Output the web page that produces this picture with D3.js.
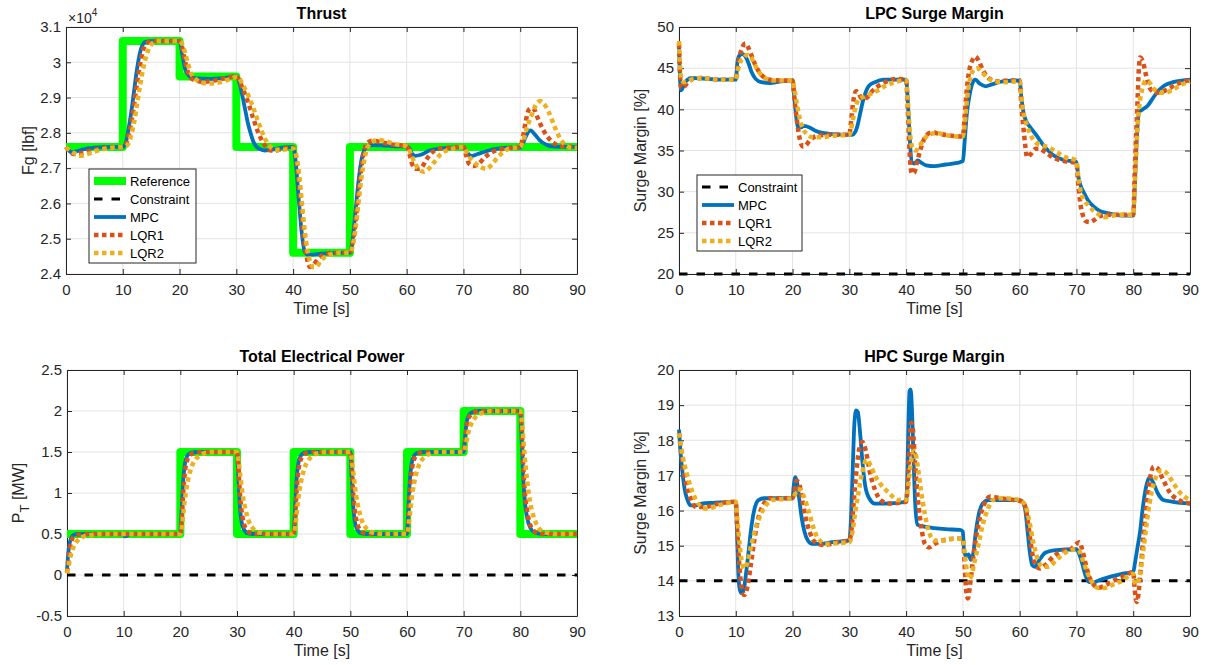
<!DOCTYPE html>
<html>
<head>
<meta charset="utf-8">
<script src="https://cdn.jsdelivr.net/npm/d3@7"></script>
<style>
  body { margin: 0; background: #fff; }
  text { font-family: "Liberation Sans", Arial, Helvetica, sans-serif; }
</style>
</head>
<body>
<svg id="chart" width="1206" height="665"></svg>
<script>
// ---- data ----
var timeTicks = [0, 10, 20, 30, 40, 50, 60, 70, 80, 90];

// Thrust [lbf]
var thrustTicks = [24000, 25000, 26000, 27000, 28000, 29000, 30000, 31000];
var thrustRef = [[0,27600],[10,30600],[20,29600],[30,27600],[40,24600],[50,27600],[90,27600]];
var thrustMPC = [[0,27600],[0.5,27500],[1,27450],[2,27480],[3,27530],[5,27580],[8,27600],[10,27600],[10.5,27700],[11,28100],[11.5,28600],[12,29200],[12.5,29800],[13,30250],[13.5,30500],[14,30580],[15,30600],[20,30600],[20.5,30200],[21,29800],[21.5,29650],[22,29580],[23,29540],[25,29530],[28,29560],[30,29600],[30.5,29450],[31,29100],[31.5,28700],[32,28300],[32.5,28000],[33,27750],[34,27550],[35,27500],[36,27520],[38,27580],[40,27600],[40.5,27100],[41,26100],[41.5,25200],[42,24650],[42.5,24550],[43,24550],[45,24580],[48,24600],[50,24600],[50.5,25000],[51,25800],[51.5,26600],[52,27200],[52.5,27500],[53,27620],[54,27650],[56,27640],[58,27620],[60,27620],[60.5,27550],[61,27400],[61.5,27350],[62.5,27380],[64,27500],[66,27560],[68,27580],[70,27600],[70.5,27480],[71,27380],[71.5,27350],[72.5,27400],[74,27480],[76,27550],[78,27580],[80,27580],[80.5,27700],[81,27900],[81.8,28070],[82.6,27950],[83.5,27780],[84.5,27670],[86,27610],[90,27600]];
var thrustLQR1 = [[0,27600],[0.5,27500],[1,27420],[1.5,27400],[2.5,27420],[4,27480],[6,27550],[8,27590],[10,27600],[10.5,27650],[11,27900],[11.5,28300],[12,28800],[12.5,29400],[13,29900],[13.5,30300],[14,30500],[15,30600],[20,30600],[20.5,30400],[21,30000],[21.5,29700],[22,29550],[23,29480],[24,29450],[26,29480],[28,29550],[30,29600],[30.5,29500],[31,29300],[32,28900],[33,28400],[34,27950],[35,27650],[36,27500],[37,27500],[38,27550],[40,27580],[40.5,27300],[41,26600],[41.5,25700],[42,24900],[42.5,24400],[43,24200],[43.5,24250],[44.5,24450],[46,24580],[48,24600],[50,24600],[50.5,24900],[51,25500],[51.5,26300],[52,27000],[52.5,27500],[53,27700],[54,27780],[55,27750],[57,27680],[60,27620],[60.5,27400],[61,27100],[61.7,26980],[62.5,27000],[63.5,27250],[64.5,27450],[66,27560],[68,27590],[70,27600],[70.5,27350],[71,27120],[71.8,27060],[72.7,27120],[73.7,27300],[75,27450],[77,27550],[80,27600],[80.5,27900],[81,28350],[81.5,28650],[82,28700],[82.5,28650],[83,28450],[84,28100],[85,27850],[86,27700],[87,27620],[90,27600]];
var thrustLQR2 = [[0,27600],[0.5,27520],[1.5,27420],[2.5,27350],[3.5,27380],[5,27470],[7,27550],[9,27590],[10,27600],[10.5,27620],[11,27700],[11.5,27950],[12,28300],[12.5,28800],[13,29300],[13.5,29750],[14,30100],[14.5,30350],[15,30500],[16,30600],[20,30600],[20.5,30500],[21,30250],[21.5,29950],[22,29700],[23,29500],[24,29420],[25,29400],[27,29430],[29,29530],[30,29580],[30.5,29550],[31,29400],[32,29100],[33,28700],[34,28250],[35,27850],[36,27600],[37,27520],[38,27520],[40,27560],[40.5,27400],[41,26900],[41.5,26100],[42,25300],[42.5,24700],[43,24350],[43.5,24200],[44,24200],[45,24400],[46.5,24550],[48,24600],[50,24600],[50.5,24800],[51,25300],[51.5,26000],[52,26700],[52.5,27200],[53,27550],[54,27750],[55,27800],[56.5,27750],[58,27680],[60,27620],[60.5,27500],[61,27300],[62,27000],[63,26900],[64,27000],[65,27200],[66,27400],[68,27550],[70,27600],[70.5,27480],[71,27330],[72,27150],[73,27030],[74,26980],[75,27100],[76,27300],[77,27450],[78,27550],[80,27600],[80.5,27750],[81,28050],[82,28500],[83,28850],[83.5,28900],[84,28850],[85,28600],[86,28200],[87,27850],[88,27650],[89,27580],[90,27580]];

// LPC surge margin [%]
var lpcTicks = [20, 25, 30, 35, 40, 45, 50];
var lpcConstraint = 20;
var lpcMPC = [[0,47.5],[0.2,43.5],[0.4,42.3],[0.7,42.7],[1,43.2],[1.5,43.6],[2,43.8],[3,43.8],[5,43.7],[8,43.6],[10,43.6],[10.3,45.8],[10.6,46.5],[11.2,46.7],[11.8,46.3],[12.3,45.5],[12.8,44.5],[13.5,43.7],[14.5,43.3],[16,43.2],[18,43.4],[20,43.5],[20.3,41.5],[20.7,38.8],[21,37.8],[21.5,37.8],[22,38],[23,37.8],[24,37.4],[25.5,37.1],[27,37],[30,36.9],[30.5,36.9],[31,37.2],[31.5,38.2],[32,39.8],[32.5,41.3],[33,42.3],[33.5,42.9],[34.5,43.3],[36,43.6],[40,43.6],[40.3,41],[40.6,37],[41,33.6],[41.5,33.4],[42,33.8],[42.5,33.6],[43.5,33.2],[45,33.1],[47,33.3],[49,33.5],[50,33.7],[50.3,36],[50.7,39.5],[51.2,41.8],[51.7,43.2],[52.2,43.6],[53,43.1],[54,42.8],[55,43],[57,43.4],[60,43.5],[60.3,41.5],[60.7,39.5],[61.2,38.5],[62,37.7],[63,36.8],[64,35.8],[65,35],[66,34.4],[67.5,33.9],[70,33.6],[70.3,32],[70.7,30.8],[71.3,29.9],[72,29],[73,28.2],[74,27.7],[75.5,27.4],[78,27.1],[80,27.1],[80.3,31],[80.6,36],[81,39.6],[81.7,40],[82.5,40.4],[83.5,41.4],[84.5,42.3],[85.5,42.9],[87,43.3],[88.5,43.5],[90,43.6]];
var lpcLQR1 = [[0,48],[0.2,44],[0.4,42.6],[0.8,42.7],[1.5,43.2],[2.5,43.7],[4,43.8],[7,43.6],[10,43.6],[10.3,45],[10.7,46.5],[11.2,47.6],[11.7,48],[12.2,47.5],[12.8,46.5],[13.5,45.3],[14.5,44.2],[16,43.6],[18,43.5],[20,43.5],[20.3,41.5],[20.8,38.5],[21.3,36.3],[21.8,35.5],[22.3,35.6],[23,36.2],[24,36.7],[26,36.9],[28,36.9],[30,36.9],[30.3,38.5],[30.7,41],[31.2,42.2],[31.6,42],[32.2,41.3],[33,41.4],[34,42.2],[35.5,43],[37,43.5],[38.5,43.7],[40,43.6],[40.3,40],[40.6,35],[41,32.2],[41.4,32.3],[42,33.8],[42.7,35.5],[43.5,36.8],[44.5,37.2],[46,37],[48,36.8],[50,36.7],[50.3,39],[50.7,42.5],[51.2,45],[51.7,46],[52.2,46.4],[52.7,46],[53.5,44.8],[54.5,43.8],[56,43.4],[58,43.5],[60,43.5],[60.3,40.5],[60.7,37.5],[61,35.5],[61.3,34.2],[62,34.6],[62.8,35.2],[63.5,35.2],[64.5,34.8],[66,34.1],[68,33.7],[70,33.5],[70.3,31],[70.7,28.5],[71.2,27],[71.7,26.4],[72.3,26.3],[73,26.5],[74,27],[75.5,27.2],[78,27.2],[80,27.2],[80.3,33],[80.7,40],[81,45],[81.2,46.3],[81.7,45.8],[82.3,44],[83,42.5],[84,42],[85,42.1],[86,42.4],[87.5,43],[89,43.4],[90,43.5]];
var lpcLQR2 = [[0,48.3],[0.2,45],[0.4,43.8],[0.8,43.3],[1.5,43.4],[2.5,43.7],[4,43.8],[7,43.6],[10,43.6],[10.3,44.5],[10.7,45.6],[11.3,46.2],[12,46.6],[12.6,46.4],[13.3,45.5],[14,44.6],[15,43.9],[16.5,43.5],[20,43.5],[20.3,42.5],[20.8,40.5],[21.3,38.8],[21.8,37.7],[22.5,37],[23.5,36.6],[25,36.6],[27,36.8],[30,36.9],[30.3,37.5],[30.7,39],[31.2,40.5],[31.8,41.3],[32.5,41.5],[33.5,41.8],[35,42.3],[36.5,42.9],[38,43.3],[40,43.5],[40.3,41],[40.7,37],[41.2,35.2],[41.7,35],[42.3,35.5],[43.2,36.4],[44.2,37],[45.5,37.1],[47.5,36.8],[50,36.7],[50.3,38],[50.7,41],[51.2,43.5],[51.8,44.7],[52.5,45],[53.3,44.6],[54.2,43.9],[55.5,43.4],[57,43.3],[60,43.4],[60.3,41.5],[60.7,39.5],[61.3,38],[62,36.8],[62.8,36],[63.7,35.7],[65,35.4],[66.5,34.8],[68,34.2],[70,33.8],[70.3,32],[70.7,30.2],[71.3,29],[72,28.4],[73,27.7],[74,27.2],[75,26.9],[76.5,27.1],[78,27.2],[80,27.2],[80.3,31],[80.7,37],[81.1,40.5],[81.6,42.5],[82.2,43.5],[82.8,43.3],[83.5,42.6],[84.5,42.1],[85.5,42],[87,42.4],[88.5,43],[90,43.4]];

// Total electrical power [MW]
var powerTicks = [-0.5, 0, 0.5, 1, 1.5, 2, 2.5];
var powerConstraint = 0;
var powerRef = [[0,0.5],[20,1.5],[30,0.5],[40,1.5],[50,0.5],[60,1.5],[70,2],[80,0.5],[90,0.5]];
var powerMPC = [[0,0.05],[0.2,0.25],[0.5,0.4],[0.8,0.46],[1.2,0.49],[2,0.5],[10,0.5],[10.2,0.47],[10.6,0.48],[11.2,0.5],[20,0.5],[20.2,0.75],[20.5,1.15],[20.8,1.35],[21.2,1.45],[21.8,1.49],[23,1.5],[30,1.5],[30.2,1.25],[30.5,0.85],[30.8,0.65],[31.2,0.56],[31.8,0.51],[33,0.5],[40,0.5],[40.2,0.75],[40.5,1.15],[40.8,1.35],[41.2,1.45],[41.8,1.49],[43,1.5],[50,1.5],[50.2,1.25],[50.5,0.85],[50.8,0.65],[51.2,0.56],[51.8,0.51],[53,0.5],[60,0.5],[60.2,0.75],[60.5,1.15],[60.8,1.35],[61.2,1.45],[61.8,1.49],[63,1.5],[70,1.5],[70.2,1.65],[70.5,1.85],[70.8,1.93],[71.3,1.98],[72.5,2],[80,2],[80.2,1.7],[80.5,1.2],[80.8,0.9],[81.2,0.7],[81.8,0.57],[82.5,0.52],[84,0.5],[90,0.5]];
var powerLQR1 = [[0,0.03],[0.2,0.15],[0.5,0.32],[0.8,0.42],[1.2,0.47],[2,0.49],[3,0.5],[20,0.5],[20.2,0.65],[20.5,1],[20.8,1.25],[21.2,1.4],[21.8,1.47],[22.5,1.49],[24,1.5],[30,1.5],[30.2,1.35],[30.5,1],[30.8,0.78],[31.2,0.63],[31.8,0.54],[32.5,0.51],[34,0.5],[40,0.5],[40.2,0.65],[40.5,1],[40.8,1.25],[41.2,1.4],[41.8,1.47],[42.5,1.49],[44,1.5],[50,1.5],[50.2,1.35],[50.5,1],[50.8,0.78],[51.2,0.63],[51.8,0.54],[52.5,0.51],[54,0.5],[60,0.5],[60.2,0.65],[60.5,1],[60.8,1.25],[61.2,1.4],[61.8,1.47],[62.5,1.49],[64,1.5],[70,1.5],[70.2,1.6],[70.5,1.8],[70.8,1.9],[71.3,1.96],[72,1.99],[73,2],[80,2],[80.2,1.8],[80.5,1.35],[80.8,1],[81.2,0.78],[81.8,0.6],[82.5,0.53],[83.5,0.5],[90,0.5]];
var powerLQR2 = [[0,0.02],[0.3,0.12],[0.7,0.25],[1.2,0.35],[2,0.43],[3,0.47],[4.5,0.49],[6,0.5],[20,0.5],[20.3,0.6],[20.6,0.8],[21,1.02],[21.5,1.2],[22,1.32],[22.7,1.41],[23.5,1.46],[24.5,1.49],[26,1.5],[30,1.5],[30.3,1.38],[30.6,1.2],[31,0.98],[31.5,0.8],[32,0.67],[32.7,0.58],[33.5,0.53],[34.5,0.51],[36,0.5],[40,0.5],[40.3,0.6],[40.6,0.8],[41,1.02],[41.5,1.2],[42,1.32],[42.7,1.41],[43.5,1.46],[44.5,1.49],[46,1.5],[50,1.5],[50.3,1.38],[50.6,1.2],[51,0.98],[51.5,0.8],[52,0.67],[52.7,0.58],[53.5,0.53],[54.5,0.51],[56,0.5],[60,0.5],[60.3,0.6],[60.6,0.8],[61,1.02],[61.5,1.2],[62,1.32],[62.7,1.41],[63.5,1.46],[64.5,1.49],[66,1.5],[70,1.5],[70.3,1.56],[70.7,1.7],[71.2,1.82],[71.8,1.9],[72.5,1.95],[73.5,1.98],[75,2],[80,2],[80.3,1.85],[80.7,1.5],[81.2,1.15],[81.7,0.9],[82.3,0.72],[83,0.6],[84,0.53],[85,0.51],[86.5,0.5],[90,0.5]];

// HPC surge margin [%]
var hpcTicks = [13, 14, 15, 16, 17, 18, 19, 20];
var hpcConstraint = 14;
var hpcMPC = [[0,18.3],[0.3,17.6],[0.6,17.1],[1,16.6],[1.5,16.3],[2,16.15],[3,16.15],[4,16.2],[6,16.22],[10,16.25],[10.2,15.5],[10.4,14.4],[10.7,13.75],[11,13.65],[11.4,13.75],[11.8,14.2],[12.3,14.9],[12.8,15.6],[13.3,16.05],[14,16.3],[15,16.35],[20,16.35],[20.2,16.7],[20.5,16.95],[20.8,16.8],[21.2,16.3],[21.6,15.8],[22.1,15.4],[22.7,15.15],[23.5,15.05],[25,15.05],[27,15.1],[30,15.15],[30.3,15.8],[30.6,17.2],[30.9,18.5],[31.2,18.85],[31.5,18.8],[31.9,18.2],[32.3,17.4],[32.8,16.7],[33.5,16.35],[34.5,16.2],[36,16.2],[40,16.25],[40.2,16.9],[40.4,18.4],[40.6,19.4],[40.8,19.45],[41,19],[41.3,17.5],[41.6,16.2],[42,15.6],[43,15.55],[45,15.5],[47,15.47],[49.5,15.45],[50,15.4],[50.2,14.85],[50.6,14.7],[51,14.75],[51.4,14.6],[51.8,14.75],[52.2,15.3],[52.8,15.9],[53.5,16.2],[54.5,16.3],[57,16.3],[60,16.3],[60.5,16.25],[61,16],[61.4,15.4],[61.8,14.8],[62.2,14.45],[62.7,14.4],[63.5,14.6],[64.5,14.8],[66,14.87],[70,14.9],[70.4,14.8],[71,14.5],[71.6,14.15],[72.2,13.97],[73,13.95],[74,14.02],[76,14.12],[78,14.2],[80,14.25],[80.3,14.5],[80.7,14.9],[81.2,15.4],[81.7,16.1],[82.3,16.7],[82.9,16.95],[83.5,16.8],[84.3,16.5],[85.3,16.3],[87,16.25],[90,16.2]];
var hpcLQR1 = [[0,18.2],[0.3,17.8],[0.7,17.3],[1.2,16.8],[2,16.35],[3,16.1],[4.5,16.1],[7,16.2],[10,16.25],[10.3,15.3],[10.7,14.3],[11.1,13.75],[11.5,13.6],[12,13.8],[12.6,14.4],[13.3,15.2],[14,15.8],[14.8,16.15],[16,16.35],[20,16.35],[20.3,16.5],[20.7,16.85],[21.1,16.8],[21.6,16.4],[22.3,15.8],[23,15.4],[24,15.1],[25.5,15.02],[28,15.1],[30,15.15],[30.4,15.5],[30.8,16.3],[31.3,17.2],[31.8,17.8],[32.3,17.95],[32.9,17.7],[33.6,17.1],[34.5,16.6],[35.5,16.3],[37,16.2],[40,16.25],[40.3,16.8],[40.6,17.8],[40.9,18.5],[41.2,18.3],[41.6,17.3],[42.1,16.3],[42.7,15.5],[43.3,15.05],[44,14.95],[45,15.05],[46.5,15.15],[48.5,15.2],[50,15.2],[50.3,14.5],[50.6,13.7],[50.9,13.5],[51.2,13.8],[51.7,14.5],[52.3,15.2],[53,15.8],[53.8,16.2],[54.8,16.4],[56.5,16.35],[59,16.3],[60.5,16.25],[61,16.1],[61.6,15.5],[62.2,14.8],[62.8,14.45],[63.5,14.35],[64.5,14.45],[66,14.7],[67.5,14.85],[69,14.9],[70,15.05],[70.5,15.1],[71,14.9],[71.6,14.5],[72.3,14.1],[73,13.9],[73.8,13.8],[74.8,13.85],[76.5,14],[78.5,14.15],[80,14.25],[80.3,13.7],[80.6,13.4],[80.9,13.6],[81.3,14.3],[81.8,15.3],[82.4,16.3],[83,16.95],[83.6,17.25],[84.3,17.2],[85.2,16.9],[86.5,16.5],[88,16.3],[90,16.2]];
var hpcLQR2 = [[0,18.2],[0.3,17.9],[0.7,17.5],[1.3,17.1],[2,16.7],[3,16.3],[4,16.1],[5,16.05],[7,16.15],[10,16.25],[10.3,15.7],[10.7,15],[11.1,14.5],[11.5,14.35],[12,14.5],[12.7,15],[13.5,15.5],[14.3,15.85],[15.3,16.15],[16.5,16.3],[20,16.35],[20.3,16.4],[20.8,16.6],[21.3,16.6],[22,16.4],[22.8,16],[23.6,15.55],[24.5,15.2],[26,15.05],[28,15.08],[30,15.1],[30.5,15.35],[31,15.9],[31.6,16.5],[32.3,17.1],[33,17.45],[33.7,17.3],[34.5,17],[35.5,16.75],[37,16.5],[38.5,16.3],[40,16.3],[40.3,16.6],[40.7,17.2],[41.1,17.6],[41.5,17.7],[42,17.3],[42.6,16.6],[43.3,15.9],[44,15.4],[45,15.15],[46.5,15.15],[48.5,15.2],[50,15.2],[50.3,14.8],[50.7,14.3],[51.1,14.05],[51.5,14.15],[52,14.5],[52.7,15],[53.5,15.6],[54.3,16],[55.3,16.3],[57,16.35],[60,16.3],[60.5,16.25],[61,16.15],[61.7,15.7],[62.4,15.1],[63.2,14.6],[64,14.4],[65,14.4],[66.5,14.6],[68,14.8],[70,14.9],[70.5,14.85],[71.2,14.55],[72,14.2],[72.8,13.95],[73.8,13.8],[75,13.8],[76.5,13.9],[78,14],[80,14.2],[80.3,13.95],[80.7,13.9],[81.2,14.2],[81.8,14.9],[82.5,15.8],[83.2,16.5],[84,16.95],[85,17.15],[86,17.05],[87,16.8],[88.3,16.5],[90,16.3]];

// ---- drawing ----
var svg = d3.select("#chart");
var axisColor = "#262626";

// series styles
var styles = {
  Reference:  {stroke: "#00ff00", width: 8, dash: null},
  Constraint: {stroke: "#000000", width: 3, dash: "8.5,9"},
  MPC:        {stroke: "#0072bd", width: 3.8, dash: null},
  LQR1:       {stroke: "#d95319", width: 4.5, dash: "4.5,3.5"},
  LQR2:       {stroke: "#edb120", width: 4.5, dash: "4.5,3.5"}
};

var panels = [
  {title: "Thrust", left: 66, right: 577, top: 27, bottom: 274, domain: [24000, 31000], ticks: thrustTicks,
   fmt: function(d) { return String(+(d / 1e4).toFixed(2)); }, exponent: true,
   ylabel: "Fg [lbf]", ylabelX: 34,
   ref: thrustRef, constraint: null, mpc: thrustMPC, lqr1: thrustLQR1, lqr2: thrustLQR2,
   legend: {x: 89, y: 169, w: 107, items: ["Reference", "Constraint", "MPC", "LQR1", "LQR2"]}},
  {title: "LPC Surge Margin", left: 679, right: 1190, top: 27, bottom: 274, domain: [20, 50], ticks: lpcTicks,
   fmt: function(d) { return String(d); },
   ylabel: "Surge Margin [%]", ylabelX: 646,
   ref: null, constraint: lpcConstraint, mpc: lpcMPC, lqr1: lpcLQR1, lqr2: lpcLQR2,
   legend: {x: 697, y: 175, w: 105, items: ["Constraint", "MPC", "LQR1", "LQR2"]}},
  {title: "Total Electrical Power", left: 67, right: 577, top: 370, bottom: 616, domain: [-0.5, 2.5], ticks: powerTicks,
   fmt: function(d) { return String(d); },
   ylabel: "P_T [MW]", ylabelX: 24,
   ref: powerRef, constraint: powerConstraint, mpc: powerMPC, lqr1: powerLQR1, lqr2: powerLQR2,
   legend: null},
  {title: "HPC Surge Margin", left: 679, right: 1190, top: 370, bottom: 616, domain: [13, 20], ticks: hpcTicks,
   fmt: function(d) { return String(d); },
   ylabel: "Surge Margin [%]", ylabelX: 646,
   ref: null, constraint: hpcConstraint, mpc: hpcMPC, lqr1: hpcLQR1, lqr2: hpcLQR2,
   legend: null}
];

function styled(sel, s) {
  sel.attr("fill", "none")
    .attr("stroke", s.stroke)
    .attr("stroke-width", s.width)
    .attr("stroke-dasharray", s.dash);
  return sel;
}

panels.forEach(function(p) {
  var g = svg.append("g");
  var x = d3.scaleLinear().domain([0, 90]).range([p.left, p.right]);
  var y = d3.scaleLinear().domain(p.domain).range([p.bottom, p.top]);

  // grid
  g.append("g").selectAll("line").data(timeTicks).enter().append("line")
    .attr("x1", function(d) { return x(d); }).attr("x2", function(d) { return x(d); })
    .attr("y1", p.top).attr("y2", p.bottom)
    .attr("stroke", "#e3e3e3").attr("stroke-width", 1);
  g.append("g").selectAll("line").data(p.ticks).enter().append("line")
    .attr("y1", function(d) { return y(d); }).attr("y2", function(d) { return y(d); })
    .attr("x1", p.left).attr("x2", p.right)
    .attr("stroke", "#e3e3e3").attr("stroke-width", 1);

  // axes (ticks pointing inward, box on)
  var ax = [
    g.append("g").attr("transform", "translate(0," + p.bottom + ")")
      .call(d3.axisBottom(x).tickValues(timeTicks).tickSizeInner(-5).tickSizeOuter(0).tickPadding(10)),
    g.append("g").attr("transform", "translate(0," + p.top + ")")
      .call(d3.axisTop(x).tickValues(timeTicks).tickSizeInner(-5).tickSizeOuter(0).tickFormat("")),
    g.append("g").attr("transform", "translate(" + p.left + ",0)")
      .call(d3.axisLeft(y).tickValues(p.ticks).tickSizeInner(-5).tickSizeOuter(0).tickPadding(5).tickFormat(p.fmt)),
    g.append("g").attr("transform", "translate(" + p.right + ",0)")
      .call(d3.axisRight(y).tickValues(p.ticks).tickSizeInner(-5).tickSizeOuter(0).tickFormat(""))
  ];
  ax.forEach(function(a) {
    a.select(".domain").attr("stroke", axisColor).attr("stroke-width", 1);
    a.selectAll(".tick line").attr("stroke", axisColor);
    a.selectAll(".tick text").attr("fill", axisColor)
      .style("font-size", "15px").style("font-family", "'Liberation Sans', Arial, sans-serif");
  });

  // lines
  var line = d3.line().x(function(d) { return x(d[0]); }).y(function(d) { return y(d[1]); });
  var smooth = d3.line().curve(d3.curveMonotoneX)
    .x(function(d) { return x(d[0]); }).y(function(d) { return y(d[1]); });

  if (p.ref) {
    styled(g.append("path"), styles.Reference)
      .attr("stroke-linejoin", "round")
      .attr("d", d3.line().curve(d3.curveStepAfter)
        .x(function(d) { return x(d[0]); }).y(function(d) { return y(d[1]); })(p.ref));
  }
  if (p.constraint !== null) {
    styled(g.append("path"), styles.Constraint)
      .attr("d", line([[0, p.constraint], [90, p.constraint]]));
  }
  styled(g.append("path"), styles.MPC).attr("stroke-linejoin", "round").attr("d", smooth(p.mpc));
  styled(g.append("path"), styles.LQR1).attr("d", smooth(p.lqr1));
  styled(g.append("path"), styles.LQR2).attr("d", smooth(p.lqr2));

  // title
  g.append("text")
    .attr("x", (p.left + p.right) / 2).attr("y", p.top - 8)
    .attr("text-anchor", "middle").attr("font-weight", "bold")
    .attr("font-size", 16).attr("fill", "#000")
    .text(p.title);

  // x label
  g.append("text")
    .attr("x", (p.left + p.right) / 2).attr("y", p.bottom + 40)
    .attr("text-anchor", "middle").attr("font-size", 16).attr("fill", axisColor)
    .text("Time [s]");

  // y label
  var yl = g.append("text")
    .attr("transform", "translate(" + p.ylabelX + "," + ((p.top + p.bottom) / 2) + ") rotate(-90)")
    .attr("text-anchor", "middle").attr("font-size", 16).attr("fill", axisColor);
  if (p.ylabel === "P_T [MW]") {
    yl.append("tspan").text("P");
    yl.append("tspan").attr("dy", 5).attr("font-size", 13).text("T");
    yl.append("tspan").attr("dy", -5).text(" [MW]");
  } else {
    yl.text(p.ylabel);
  }

  // x10^4 multiplier
  if (p.exponent) {
    var ex = g.append("text").attr("x", p.left + 2).attr("y", p.top - 4)
      .attr("font-size", 14).attr("fill", axisColor);
    ex.append("tspan").text("\u00d710");
    ex.append("tspan").attr("dy", -7).attr("font-size", 10).text("4");
  }

  // legend
  if (p.legend) {
    var L = p.legend, rowH = 18;
    var lg = g.append("g");
    lg.append("rect")
      .attr("x", L.x).attr("y", L.y)
      .attr("width", L.w).attr("height", L.items.length * rowH + 4)
      .attr("fill", "#fff").attr("stroke", axisColor).attr("stroke-width", 1);
    L.items.forEach(function(name, i) {
      var cy = L.y + 12 + i * rowH;
      styled(lg.append("line"), styles[name])
        .attr("x1", L.x + 5).attr("x2", L.x + 37).attr("y1", cy).attr("y2", cy);
      lg.append("text").attr("x", L.x + 41).attr("y", cy + 4.5)
        .attr("font-size", 13).attr("fill", "#000").text(name);
    });
  }
});
</script>
</body>
</html>
